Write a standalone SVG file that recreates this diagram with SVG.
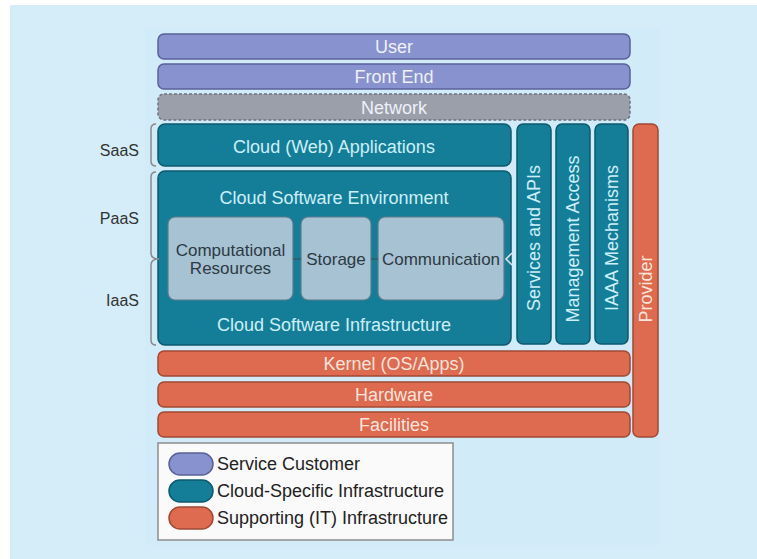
<svg xmlns="http://www.w3.org/2000/svg" width="757" height="559" viewBox="0 0 757 559">
<style>
text{font-family:"Liberation Sans",Arial,sans-serif;dominant-baseline:central;text-anchor:middle}
.cust{fill:#8792cf;stroke:#5a6199;stroke-width:1.5}
.net{fill:#9b9fa9;stroke:#6f737d;stroke-width:1.5;stroke-dasharray:3 2}
.cloud{fill:#147e98;stroke:#0d5a6e;stroke-width:1.5}
.inner{fill:#a7c2d2;stroke:#5b7b8d;stroke-width:1.2}
.sup{fill:#de6a4f;stroke:#a04a35;stroke-width:1.5}
.lt{font-size:18px;fill:#eef0fb}
.ct{font-size:18px;fill:#cdeff8}
.st{font-size:18px;fill:#f8e4dc}
.dt{font-size:17px;fill:#2c3a44}
.side{font-size:16px;fill:#333;text-anchor:end}
.leg{font-size:18px;fill:#222;text-anchor:start}
.br{fill:none;stroke:#8a8a8a;stroke-width:1.5}
.conn{fill:none;stroke:#3a4a55;stroke-width:1.2}
</style>
<rect x="10" y="5" width="747" height="554" fill="#d4edf9"/>
<rect x="145" y="28" width="515" height="517" fill="#d1ebf8"/>

<g id="user"><rect class="cust" x="158" y="34" width="472" height="25" rx="6"/><text class="lt" x="394" y="47">User</text></g>
<g id="frontend"><rect class="cust" x="158" y="64" width="472" height="25" rx="6"/><text class="lt" x="394" y="77">Front End</text></g>
<g id="network"><rect class="net" x="158" y="94" width="472" height="26" rx="6"/><text class="lt" x="394" y="108">Network</text></g>

<g id="saas-label"><text class="side" x="139" y="150">SaaS</text></g>
<g id="paas-label"><text class="side" x="139" y="218">PaaS</text></g>
<g id="iaas-label"><text class="side" x="139" y="300">IaaS</text></g>

<g id="webapps"><rect class="cloud" x="158" y="124" width="353" height="42" rx="7"/><text class="ct" x="334" y="147">Cloud (Web) Applications</text></g>
<g id="cse"><rect class="cloud" x="158" y="171" width="353" height="174" rx="7"/>
<text class="ct" x="334" y="198">Cloud Software Environment</text>
<text class="ct" x="334" y="325">Cloud Software Infrastructure</text></g>
<g id="computational"><rect class="inner" x="168" y="217" width="125" height="83" rx="7"/><text class="dt" x="230.5" y="250">Computational</text><text class="dt" x="230.5" y="268">Resources</text></g>
<g id="storage"><rect class="inner" x="301" y="217" width="70" height="83" rx="7"/><text class="dt" x="336" y="259">Storage</text></g>
<g id="communication"><rect class="inner" x="378" y="217" width="126" height="83" rx="7"/><text class="dt" x="441" y="259">Communication</text></g>

<g id="services"><rect class="cloud" x="517" y="124" width="34" height="220" rx="6"/><text class="ct" transform="rotate(-90 534 238)" x="534" y="238">Services and APIs</text></g>
<g id="management"><rect class="cloud" x="556" y="124" width="34" height="220" rx="6"/><text class="ct" transform="rotate(-90 573 239)" x="573" y="239">Management Access</text></g>
<g id="iaaa"><rect class="cloud" x="595" y="124" width="33" height="220" rx="6"/><text class="ct" transform="rotate(-90 611.5 238)" x="611.5" y="238">IAAA Mechanisms</text></g>
<g id="provider"><rect class="sup" x="633" y="124" width="25" height="313" rx="6"/><text class="st" transform="rotate(-90 645.5 289)" x="645.5" y="289">Provider</text></g>

<g id="kernel"><rect class="sup" x="158" y="351" width="472" height="25" rx="6"/><text class="st" x="394" y="363.5">Kernel (OS/Apps)</text></g>
<g id="hardware"><rect class="sup" x="158" y="382" width="472" height="25" rx="6"/><text class="st" x="394" y="394.5">Hardware</text></g>
<g id="facilities"><rect class="sup" x="158" y="412" width="472" height="25" rx="6"/><text class="st" x="394" y="424.5">Facilities</text></g>

<g id="connectors">
<path class="br" d="M156,124 Q151,124 151,129 L151,161 Q151,166 156,166"/>
<path class="br" d="M156,172 Q151,172 151,177 L151,253 Q151,259 159,259"/>
<path class="br" d="M159,259 Q151,259 151,265 L151,340 Q151,345 156,345"/>
<path class="conn" d="M293,259 L301,259 M371,259 L378,259"/>
<path fill="none" stroke="#dfe9ee" stroke-width="1.5" d="M512,253 L506,259 L512,265"/>
</g>

<g id="legend">
<rect x="158" y="443" width="295" height="97" fill="#fafafa" stroke="#8c8c8c" stroke-width="1.5"/>
<rect class="cust" x="169" y="453" width="44" height="22" rx="11"/>
<rect class="cloud" x="169" y="480" width="44" height="22" rx="11"/>
<rect class="sup" x="169" y="507" width="44" height="22" rx="11"/>
<text class="leg" x="217" y="464">Service Customer</text>
<text class="leg" x="217" y="491">Cloud-Specific Infrastructure</text>
<text class="leg" x="217" y="518">Supporting (IT) Infrastructure</text>
</g>
</svg>
